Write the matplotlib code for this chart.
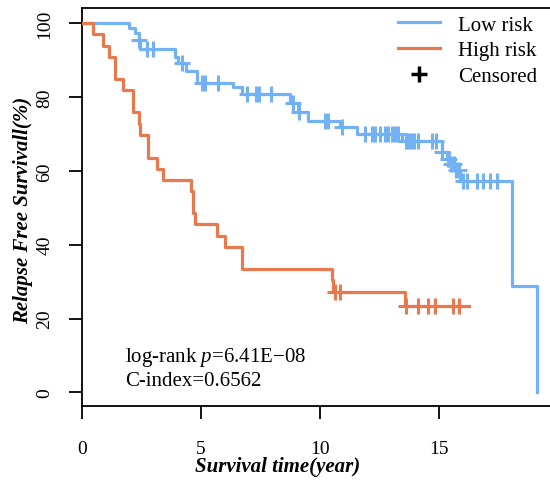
import numpy as np
import matplotlib.pyplot as plt
from matplotlib.lines import Line2D

plt.rcParams['font.family'] = ['Liberation Serif', 'DejaVu Serif']
plt.rcParams['mathtext.fontset'] = 'custom'
plt.rcParams['mathtext.rm'] = 'Liberation Serif'
plt.rcParams['mathtext.it'] = 'Liberation Serif:italic'

# Kaplan-Meier steps (time in years, survival in %)
low_time = [0, 1.99, 2.24, 2.40, 2.45, 3.91, 4.05, 4.37, 4.82, 6.36, 6.71,
            8.75, 9.05, 9.50, 10.83, 11.53, 13.42, 15.10, 15.30, 15.44,
            15.65, 15.86, 18.03, 19.08]
low_surv = [100, 98.6, 97.2, 95.4, 93.0, 90.7, 89.3, 87.1, 83.9, 82.6, 80.8,
            78.4, 75.9, 73.6, 71.8, 69.9, 68.2, 65.0, 63.2, 61.8,
            60.3, 57.3, 28.7, 0]
low_cens = [2.42, 2.75, 3.0, 4.2, 5.03, 5.17, 5.73, 6.92, 7.3, 7.45, 7.95,
            8.87, 9.1, 10.2, 10.34, 10.9, 11.88, 12.16, 12.3, 12.51, 12.72,
            12.86, 13.0, 13.14, 13.28, 13.6, 13.7, 13.8, 13.95, 14.1, 14.7,
            14.85, 15.12, 15.35, 15.4, 15.5, 15.6, 15.7, 15.8, 16.0, 16.14,
            16.56, 16.84, 17.12, 17.4]

high_time = [0, 0.49, 0.91, 1.16, 1.40, 1.75, 2.17, 2.39, 2.46, 2.79, 3.14,
             3.42, 4.58, 4.68, 4.75, 5.69, 6.01, 6.71, 10.51, 10.55, 13.56,
             16.25]
high_surv = [100, 97.0, 93.9, 90.9, 84.8, 81.8, 75.8, 72.7, 69.7, 63.6, 60.6,
             57.6, 54.5, 48.5, 45.5, 42.4, 39.4, 33.3, 30.3, 27.3, 23.4,
             23.4]
high_cens = [10.6, 10.85, 13.6, 14.1, 14.5, 14.8, 15.55, 15.8]

blue = '#72b1f4'
orange = '#e8784d'


def level_at(times, surv, t):
    i = np.searchsorted(times, t, side='right') - 1
    return np.array(surv)[i]


def plot_km(ax, times, surv, cens, color):
    ax.step(times, surv, where='post', color=color, lw=2.3, zorder=3)
    ax.plot(cens, level_at(times, surv, cens), '+', color=color,
            markersize=12, mew=2.2, zorder=4)


fig = plt.figure(figsize=(5.5, 4.81), dpi=100)
ax = fig.add_axes([81.7 / 550, 74.3 / 481, 477 / 550, 397.4 / 481])

plot_km(ax, low_time, low_surv, low_cens, blue)
plot_km(ax, high_time, high_surv, high_cens, orange)

ax.set_xlim(0, 20)
ax.set_ylim(-3.6, 104)
ax.set_xticks([0, 5, 10, 15])
ax.set_yticks([0, 20, 40, 60, 80, 100])
for s in ax.spines.values():
    s.set_linewidth(1.3)
ax.tick_params(length=9.5, width=1.3, labelsize=14)
ax.tick_params(axis='x', pad=15)
ax.tick_params(axis='y', pad=11)
for lab in ax.get_yticklabels():
    lab.set_rotation(90)
    lab.set_va('center')

ax.set_xlabel('Survival time(year)', fontsize=15, fontweight='bold',
              fontstyle='italic')
ax.xaxis.set_label_coords(0.41, -0.152)
ax.xaxis.label.set_va('center')
ax.set_ylabel('Relapse Free Survivall(%)', fontsize=15, fontweight='bold',
              fontstyle='italic')
ax.yaxis.set_label_coords(-0.123, 0.495)
ax.yaxis.label.set_va('center')

ax.text(1.8, 9.8, r'log-rank $p$=6.41E−08', fontsize=15, va='center')
ax.text(1.8, 3.1, 'C-index=0.6562', fontsize=15, va='center')

handles = [Line2D([], [], color=blue, lw=2.3),
           Line2D([], [], color=orange, lw=2.3),
           Line2D([], [], color='black', marker='+', ls='none',
                  markersize=12, mew=2.5)]
fig.legend(handles, ['Low risk', 'High risk', 'Censored'], loc='upper left',
           bbox_to_anchor=(398 / 550, 1 - 16 / 481), frameon=False,
           fontsize=15, handlelength=2.0, handletextpad=0.87,
           labelspacing=0.3, borderpad=0, borderaxespad=0)

fig.savefig('out.png', dpi=100)
